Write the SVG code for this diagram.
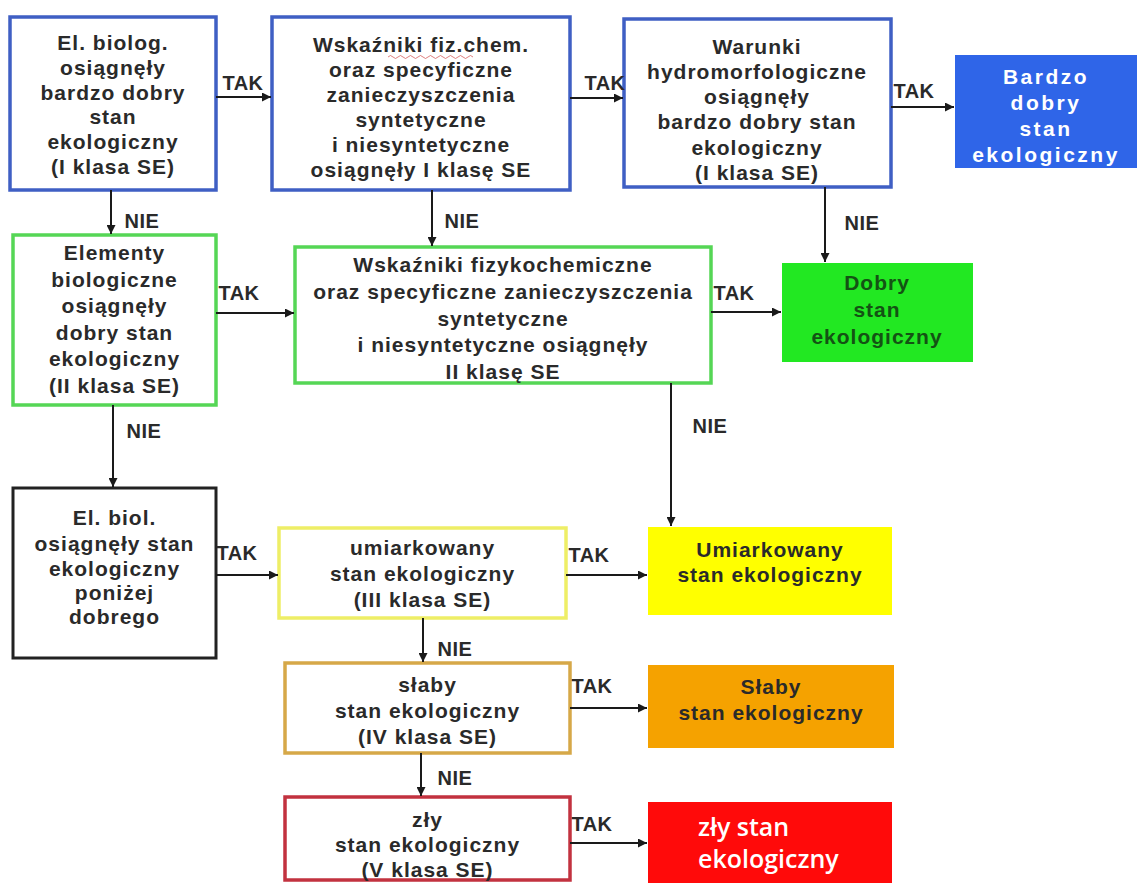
<svg xmlns="http://www.w3.org/2000/svg" width="1137" height="883" viewBox="0 0 1137 883">
<defs>
<marker id="ah" viewBox="0 0 10 10" refX="10" refY="5" markerWidth="9" markerHeight="9" markerUnits="userSpaceOnUse" orient="auto">
<path d="M0,0 L10,5 L0,10 z" fill="#1a1a1a"/>
</marker>
<style>
text{font-family:"Liberation Sans",Arial,sans-serif;font-weight:700;font-size:21px;letter-spacing:1px;fill:#2a2a2a;text-anchor:middle}
.lbl{font-size:20px;letter-spacing:0.5px}
.box{fill:#ffffff;stroke-width:3.5}
.blue{stroke:#3f5fc4}
.green{stroke:#55d655}
.black{stroke:#222222;stroke-width:3}
.yellow{stroke:#eeee66}
.gold{stroke:#d6a848}
.red{stroke:#c2323f}
.conn line{stroke:#1a1a1a;stroke-width:2;marker-end:url(#ah)}
.w{fill:#ffffff}
.bd{letter-spacing:2.5px}
.dg{fill:#145214}
.big{text-anchor:start;font-family:"Open Sans","Liberation Sans",sans-serif;font-size:25px;font-weight:600;letter-spacing:0}
</style>
</defs>
<rect width="1137" height="883" fill="#ffffff"/>

<g id="n1">
<rect class="box blue" x="10" y="17" width="206" height="173"/>
<text x="113" y="50">El. biolog.</text>
<text x="113" y="75">osiągnęły</text>
<text x="113" y="100">bardzo dobry</text>
<text x="113" y="124">stan</text>
<text x="113" y="149">ekologiczny</text>
<text x="113" y="174">(I klasa SE)</text>
</g>

<g id="n2">
<rect class="box blue" x="272" y="17" width="298" height="173"/>
<text x="421" y="52">Wskaźniki fiz.chem.</text>
<path d="M388,57 q2.5,-3 5,0 t5,0 t5,0 t5,0 t5,0 t5,0 t5,0 t5,0 t5,0 t5,0 t5,0 t5,0 t5,0 t5,0 t5,0 t5,0 t5,0" fill="none" stroke="#d04a4a" stroke-width="1" opacity="0.7"/>
<text x="421" y="77">oraz specyficzne</text>
<text x="421" y="102">zanieczyszczenia</text>
<text x="421" y="127">syntetyczne</text>
<text x="421" y="152">i niesyntetyczne</text>
<text x="421" y="177">osiągnęły I klasę SE</text>
</g>

<g id="n3">
<rect class="box blue" x="624" y="19" width="267" height="168"/>
<text x="757" y="54">Warunki</text>
<text x="757" y="79">hydromorfologiczne</text>
<text x="757" y="104">osiągnęły</text>
<text x="757" y="129">bardzo dobry stan</text>
<text x="757" y="155">ekologiczny</text>
<text x="757" y="180">(I klasa SE)</text>
</g>

<g id="n4">
<rect x="955" y="55" width="182" height="113" fill="#2f65e8"/>
<text class="w bd" x="1046" y="84">Bardzo</text>
<text class="w bd" x="1046" y="110">dobry</text>
<text class="w bd" x="1046" y="136">stan</text>
<text class="w bd" x="1046" y="162">ekologiczny</text>
</g>

<g id="n5">
<rect class="box green" x="13" y="235" width="203" height="170"/>
<text x="114.5" y="260">Elementy</text>
<text x="114.5" y="287">biologiczne</text>
<text x="114.5" y="313">osiągnęły</text>
<text x="114.5" y="340">dobry stan</text>
<text x="114.5" y="366">ekologiczny</text>
<text x="114.5" y="393">(II klasa SE)</text>
</g>

<g id="n6">
<rect class="box green" x="295" y="247" width="416" height="136"/>
<text x="503" y="272">Wskaźniki fizykochemiczne</text>
<text x="503" y="299">oraz specyficzne zanieczyszczenia</text>
<text x="503" y="326">syntetyczne</text>
<text x="503" y="352">i niesyntetyczne osiągnęły</text>
<text x="503" y="379">II klasę SE</text>
</g>

<g id="n7">
<rect x="782" y="263" width="191" height="99" fill="#22e822"/>
<text class="dg" x="877" y="290">Dobry</text>
<text class="dg" x="877" y="317">stan</text>
<text class="dg" x="877" y="344">ekologiczny</text>
</g>

<g id="n8">
<rect class="box black" x="13" y="488" width="203" height="170"/>
<text x="114.5" y="525">El. biol.</text>
<text x="114.5" y="551">osiągnęły stan</text>
<text x="114.5" y="576">ekologiczny</text>
<text x="114.5" y="600">poniżej</text>
<text x="114.5" y="624">dobrego</text>
</g>

<g id="n9">
<rect class="box yellow" x="279" y="528" width="287" height="90"/>
<text x="422.5" y="555">umiarkowany</text>
<text x="422.5" y="581">stan ekologiczny</text>
<text x="422.5" y="607">(III klasa SE)</text>
</g>

<g id="n10">
<rect x="648" y="527" width="244" height="88" fill="#ffff00"/>
<text x="770" y="557">Umiarkowany</text>
<text x="770" y="582">stan ekologiczny</text>
</g>

<g id="n11">
<rect class="box gold" x="285" y="663" width="285" height="90"/>
<text x="427.5" y="692">słaby</text>
<text x="427.5" y="718">stan ekologiczny</text>
<text x="427.5" y="744">(IV klasa SE)</text>
</g>

<g id="n12">
<rect x="648" y="665" width="246" height="83" fill="#f5a200"/>
<text x="771" y="694">Słaby</text>
<text x="771" y="720">stan ekologiczny</text>
</g>

<g id="n13">
<rect class="box red" x="285" y="797" width="285" height="83"/>
<text x="427.5" y="827">zły</text>
<text x="427.5" y="852">stan ekologiczny</text>
<text x="427.5" y="877">(V klasa SE)</text>
</g>

<g id="n14">
<rect x="648" y="802" width="244" height="81" fill="#ff0a0a"/>
<text class="w big" x="698" y="836">zły stan</text>
<text class="w big" x="698" y="868">ekologiczny</text>
</g>

<g id="connectors" class="conn">
<line x1="216" y1="97" x2="271" y2="97"/>
<line x1="570" y1="98" x2="623" y2="98"/>
<line x1="891" y1="107" x2="954" y2="107"/>
<line x1="111" y1="190" x2="111" y2="234"/>
<line x1="432" y1="190" x2="432" y2="246"/>
<line x1="825" y1="187" x2="825" y2="262"/>
<line x1="216" y1="313" x2="294" y2="313"/>
<line x1="711" y1="312" x2="781" y2="312"/>
<line x1="113" y1="405" x2="113" y2="487"/>
<line x1="671" y1="383" x2="671" y2="526"/>
<line x1="216" y1="575" x2="278" y2="575"/>
<line x1="566" y1="575" x2="647" y2="575"/>
<line x1="423" y1="618" x2="423" y2="662"/>
<line x1="570" y1="708" x2="647" y2="708"/>
<line x1="421" y1="753" x2="421" y2="796"/>
<line x1="570" y1="843" x2="647" y2="843"/>
</g>

<g id="labels">
<text class="lbl" x="243" y="90">TAK</text>
<text class="lbl" x="605" y="90">TAK</text>
<text class="lbl" x="914" y="98">TAK</text>
<text class="lbl" x="142" y="228">NIE</text>
<text class="lbl" x="462" y="228">NIE</text>
<text class="lbl" x="862" y="230">NIE</text>
<text class="lbl" x="239" y="300">TAK</text>
<text class="lbl" x="734" y="300">TAK</text>
<text class="lbl" x="144" y="438">NIE</text>
<text class="lbl" x="710" y="433">NIE</text>
<text class="lbl" x="237" y="560">TAK</text>
<text class="lbl" x="589" y="562">TAK</text>
<text class="lbl" x="455" y="656">NIE</text>
<text class="lbl" x="592" y="693">TAK</text>
<text class="lbl" x="455" y="785">NIE</text>
<text class="lbl" x="592" y="831">TAK</text>
</g>
</svg>
